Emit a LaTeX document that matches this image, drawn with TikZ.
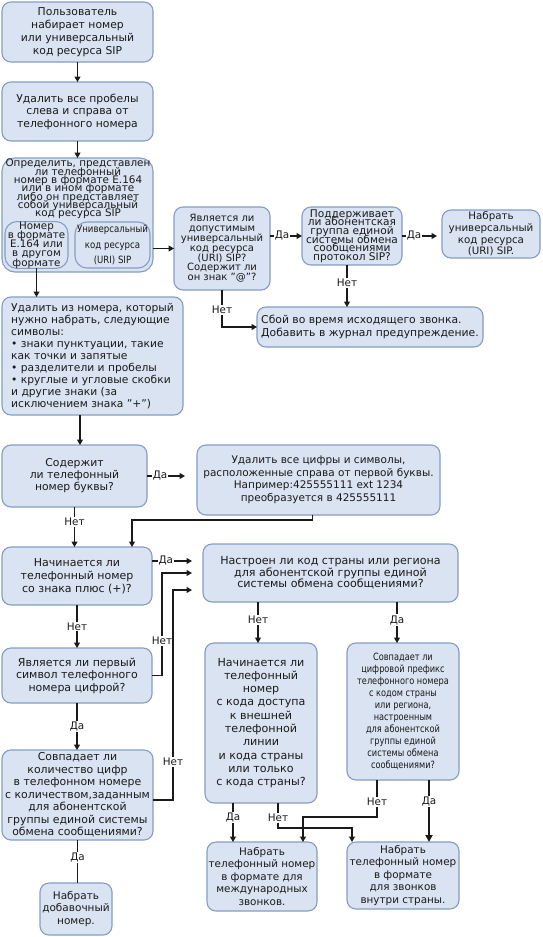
\documentclass[tikz,border=0pt]{standalone}
\usepackage{fontspec}
\setmainfont{DejaVu Sans}
\newfontfamily\condf{DejaVu Sans}[FakeStretch=0.82]
\newfontfamily\condg{DejaVu Sans}[FakeStretch=0.86]
\usetikzlibrary{arrows.meta,calc}
\definecolor{boxfill}{HTML}{DAE3F1}
\definecolor{boxline}{HTML}{859DC2}
\definecolor{ink}{HTML}{1A1A1A}
\lineskiplimit=-50pt
\newcommand{\fs}[2]{\fontsize{#1}{#2}\selectfont}
\begin{document}
\begin{tikzpicture}[x=1pt,y=-1pt,
  box/.style={draw=boxline, fill=boxfill, line width=1.1pt, rounded corners=9pt,
    inner sep=0pt, outer sep=0pt, align=center, font=\fs{10.6}{12.5}, text=ink},
  arr/.style={draw=ink, line width=1.2pt, -{Triangle[length=5.5pt,width=6pt]}},
  ln/.style={draw=ink, line width=1.2pt},
  lbl/.style={fill=white, inner sep=1pt, font=\fs{10.4}{12}, text=ink},
]
\fill[white] (0,0) rectangle (543,937);
\useasboundingbox (0,0) rectangle (543,937);

% nodes
\node[box, minimum width=151pt, minimum height=60pt, font=\fs{10.8}{13}] (b1) at (77.5,32)
  {Пользователь\\набирает номер\\или универсальный\\код ресурса SIP};
\node[box, minimum width=151pt, minimum height=59pt, font=\fs{10.8}{12.5}] (b2) at (77.5,111.5)
  {Удалить все пробелы\\слева и справа от\\телефонного номера};
\node[box, minimum width=151pt, minimum height=114pt, rounded corners=13pt] (b3) at (77.5,215) {};
\node[align=center, text=ink, inner sep=0pt, font=\fs{10.4}{8.3}] (b3t) at (78,189)
  {Определить, представлен\\ли телефонный\\номер в формате E.164\\или в ином формате\\либо он представляет\\собой универсальный\\код ресурса SIP};
\node[box, minimum width=63pt, minimum height=46pt, rounded corners=12pt, font=\fs{10.3}{9.3}] (b3a) at (36.5,245)
  {Номер\\в формате\\E.164 или\\в другом\\формате};
\node[box, minimum width=75pt, minimum height=46pt, rounded corners=12pt, font=\condg\fs{10}{15.5}] (b3b) at (112.5,245)
  {Универсальный\\код ресурса\\(URI) SIP};
\node[box, minimum width=96pt, minimum height=83pt, font=\fs{10}{9.8}] (b16) at (222,248.5)
  {Является ли\\допустимым\\универсальный\\код ресурса\\(URI) SIP?\\Содержит ли\\он знак "@"?};
\node[box, minimum width=100pt, minimum height=58pt, font=\fs{10.6}{8.6}] (b17) at (352,236)
  {Поддерживает\\ли абонентская\\группа единой\\системы обмена\\сообщениями\\протокол SIP?};
\node[box, minimum width=98pt, minimum height=48pt, font=\fs{10.3}{11.7}] (b18) at (491,234)
  {Набрать\\универсальный\\код ресурса\\(URI) SIP.};
\node[box, minimum width=226pt, minimum height=40pt, align=left, font=\fs{10.8}{13}] (b19) at (370,327)
  {Сбой во время исходящего звонка.\\Добавить в журнал предупреждение.};
\node[box, minimum width=181pt, minimum height=118pt, align=left, font=\fs{10.7}{12}] (b4) at (92.5,356)
  {Удалить из номера, который\\нужно набрать, следующие\\символы:\\• знаки пунктуации, такие\\как точки и запятые\\• разделители и пробелы\\• круглые и угловые скобки\\и другие знаки (за\\исключением знака "+")};
\node[box, minimum width=145pt, minimum height=62pt, font=\fs{10.8}{12}] (b5) at (74.5,476)
  {Содержит\\ли телефонный\\номер буквы?};
\node[box, minimum width=243pt, minimum height=70pt, font=\fs{10.5}{12.5}] (b6) at (318.5,480)
  {Удалить все цифры и символы,\\расположенные справа от первой буквы.\\Например:425555111 ext 1234\\преобразуется в 425555111};
\node[box, minimum width=150pt, minimum height=58pt, font=\fs{11}{13}] (b7) at (77,576)
  {Начинается ли\\телефонный номер\\со знака плюс (+)?};
\node[box, minimum width=150pt, minimum height=55pt, font=\fs{11}{12.5}] (b8) at (77,675.5)
  {Является ли первый\\символ телефонного\\номера цифрой?};
\node[box, minimum width=151pt, minimum height=90pt, font=\fs{10.9}{12.5}] (b9) at (77.5,795)
  {Совпадает ли\\количество цифр\\в телефонном номере\\с количеством,заданным\\для абонентской\\группы единой системы\\обмена сообщениями?};
\node[box, minimum width=72pt, minimum height=52pt, font=\fs{10.5}{12.5}] (b10) at (76,909)
  {Набрать\\добавочный\\номер.};
\node[box, minimum width=255pt, minimum height=58pt, font=\fs{11.1}{11.7}] (b11) at (330.5,573)
  {Настроен ли код страны или региона\\для абонентской группы единой\\системы обмена сообщениями?};
\node[box, minimum width=112pt, minimum height=160pt, font=\fs{11.1}{13.3}] (b12) at (261,723)
  {Начинается ли\\телефонный\\номер\\с кода доступа\\к внешней\\телефонной\\линии\\и кода страны\\или только\\с кода страны?};
\node[box, minimum width=112pt, minimum height=137pt, font=\condf\fs{10}{12}] (b13) at (403,711.5)
  {Совпадает ли\\цифровой префикс\\телефонного номера\\с кодом страны\\или региона,\\настроенным\\для абонентской\\группы единой\\системы обмена\\сообщениями?};
\node[box, minimum width=110pt, minimum height=69pt, font=\fs{10.4}{12.5}] (b14) at (262,876.5)
  {Набрать\\телефонный номер\\в формате для\\международных\\звонков.};
\node[box, minimum width=112pt, minimum height=67pt, font=\fs{10.4}{12.5}] (b15) at (403,875.5)
  {Набрать\\телефонный номер\\в формате\\для звонков\\внутри страны.};

% connectors
\draw[arr] (b1) -- (b2);
\draw[arr] (b2) -- (b3);
\draw[arr] (b3.east |- b16.west) -- (b16.west);
\draw[arr] (b16.east |- b17.west) -- node[lbl,pos=0.375]{Да} (b17.west);
\draw[arr, shorten >=5pt] (b17.east) -- node[lbl,pos=0.3]{Да} (b17.east -| b18.west);
\draw[arr] ([xshift=-5pt]b17.south) -- node[lbl,pos=0.43]{Нет} ([xshift=-5pt]b17.south |- b19.north);
\draw[arr] (b16.south) |- node[lbl,pos=0.27]{Нет} (b19.west);
\draw[arr] (b3a.south) -- (b3a.south |- b4.north);
\draw[arr] ([xshift=5.5pt]b5.north |- b4.south) -- ([xshift=5.5pt]b5.north);
\draw[arr, shorten >=12pt] (b5.east) -- node[lbl,pos=0.26]{Да} (b5.east -| b6.west);
\draw[arr] ([xshift=-6pt]b6.south) -- ++(0,5) -| ([xshift=55pt]b7.north);
\draw[arr] (b5.south) -- node[lbl,pos=0.375]{Нет} (b5.south |- b7.north);
\draw[arr, shorten >=11pt] ([yshift=15pt]b7.east) -- node[lbl,pos=0.27]{Да} ([yshift=15pt]b7.east -| b11.west);
\draw[arr, shorten >=11pt] (b8.east) -- ++(10,0) |- node[lbl,pos=0.17]{Нет} (b11.west);
\draw[arr, shorten >=11pt] ([yshift=-5pt]b9.east) -- ++(20,0) |- node[lbl,pos=0.09]{Нет} ([yshift=-17pt]b11.west);
\draw[arr] (b7) -- node[lbl]{Нет} (b8);
\draw[arr] (b8.south) -- node[lbl]{Да} (b8.south |- b9.north);
\draw[ln] (b9.south) -- node[lbl,pos=0.4]{Да} (b9.south |- b10.north);
\draw[arr] ([xshift=-3pt]b12.north |- b11.south) -- node[lbl,pos=0.44]{Нет} ([xshift=-3pt]b12.north);
\draw[arr] ([xshift=-6pt]b13.north |- b11.south) -- node[lbl,pos=0.44]{Да} ([xshift=-6pt]b13.north);
\draw[arr] ([xshift=-28pt]b12.south) -- node[lbl,pos=0.38]{Да} ([xshift=-28pt]b12.south |- b14.north);
\draw[arr] ([xshift=17pt]b12.south) -- node[lbl,pos=0.6]{Нет} ++(0,25) -| ([xshift=-51pt]b15.north);
\draw[arr] ([xshift=-26pt]b13.south) -- node[lbl,pos=0.6]{Нет} ++(0,37) -| ([xshift=41pt]b14.north);
\draw[arr, line width=2pt, -{Triangle[length=7pt,width=7pt]}] ([xshift=26pt]b13.south) -- node[lbl,pos=0.35]{Да} ([xshift=26pt]b15.north);
\end{tikzpicture}
\end{document}
